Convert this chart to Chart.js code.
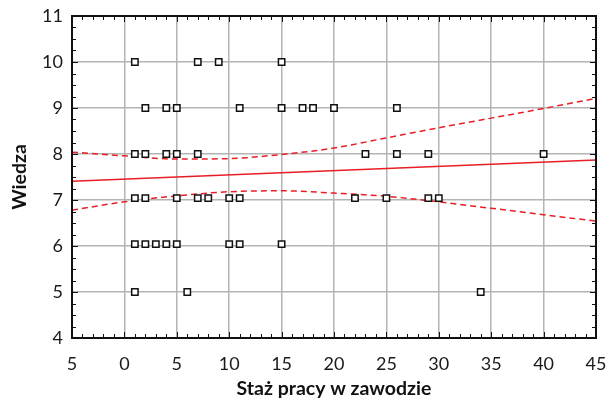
<!DOCTYPE html>
<html>
<head>
<meta charset="utf-8">
<script src="https://cdn.jsdelivr.net/npm/chart.js@4.4.0/dist/chart.umd.min.js"></script>
<style>
  body { margin: 0; background: #fff; }
  #wrap { width: 613px; height: 401px; }
</style>
</head>
<body>
<div id="wrap"><canvas id="chart" width="613" height="401"></canvas></div>
<script>
// staz pracy (lata) i wiedza (punkty)
const stazPracy = [1, 7, 9, 15,
  2, 4, 5, 11, 15, 17, 18, 20, 26,
  1, 2, 4, 5, 7, 23, 26, 29, 40,
  1, 2, 5, 7, 8, 10, 11, 22, 25, 29, 30,
  1, 2, 3, 4, 5, 10, 11, 15,
  1, 6, 34];
const wiedza = [10, 10, 10, 10,
  9, 9, 9, 9, 9, 9, 9, 9, 9,
  8, 8, 8, 8, 8, 8, 8, 8, 8,
  7.04, 7.04, 7.04, 7.04, 7.04, 7.04, 7.04, 7.04, 7.04, 7.04, 7.04,
  6.04, 6.04, 6.04, 6.04, 6.04, 6.04, 6.04, 6.04,
  5, 5, 5];

// linia regresji
const fitX = [-5, 45];
const fitY = [7.41, 7.87];

// przedzial ufnosci
const bandX = [-5, 0, 5, 10, 15, 20, 25, 30, 35, 40, 45];
const bandUpper = [8.04, 7.96, 7.89, 7.90, 7.99, 8.13, 8.35, 8.57, 8.78, 8.99, 9.21];
const bandLower = [6.78, 6.96, 7.09, 7.18, 7.20, 7.15, 7.08, 6.96, 6.82, 6.68, 6.54];

const xTicks = [-5, 0, 5, 10, 15, 20, 25, 30, 35, 40, 45];
const yTicks = [4, 5, 6, 7, 8, 9, 10, 11];

const RED = 'rgb(232, 30, 38)';
const FONT = 'Lato';

function pairs(xs, ys) {
    return xs.map((x, i) => ({ x: x, y: ys[i] }));
}

// ramka + male podzialki do srodka
const frameTicks = {
    id: 'frameTicks',
    afterDatasetsDraw(chart) {
        const ctx = chart.ctx;
        const a = chart.chartArea;
        const xs = chart.scales.x, ys = chart.scales.y;
        ctx.save();
        ctx.strokeStyle = '#111';
        ctx.lineWidth = 1;
        ctx.beginPath();
        for (let v = xs.min; v <= xs.max; v += 1) {
            const px = Math.round(xs.getPixelForValue(v)) + 0.5;
            const len = (v % 5 === 0) ? 6 : 4;
            ctx.moveTo(px, a.bottom); ctx.lineTo(px, a.bottom - len);
            ctx.moveTo(px, a.top); ctx.lineTo(px, a.top + len);
        }
        for (let v = ys.min; v <= ys.max + 0.001; v += 0.25) {
            const py = Math.round(ys.getPixelForValue(v)) + 0.5;
            const len = (Math.abs(v - Math.round(v)) < 0.01) ? 6 : 4;
            ctx.moveTo(a.left, py); ctx.lineTo(a.left + len, py);
            ctx.moveTo(a.right, py); ctx.lineTo(a.right - len, py);
        }
        ctx.stroke();
        ctx.lineWidth = 2;
        ctx.strokeStyle = '#111';
        ctx.strokeRect(a.left, a.top, a.right - a.left, a.bottom - a.top);
        ctx.restore();
    }
};

new Chart(document.getElementById('chart'), {
    type: 'scatter',
    data: {
        datasets: [
            {
                label: 'dane',
                data: pairs(stazPracy, wiedza),
                pointStyle: 'rect',
                pointRadius: 4.5,
                pointBorderWidth: 1.5,
                pointBorderColor: '#111',
                pointBackgroundColor: '#fff',
                order: 0
            },
            {
                label: 'regresja',
                data: pairs(fitX, fitY),
                showLine: true,
                borderColor: RED,
                borderWidth: 1.5,
                pointRadius: 0,
                order: 1
            },
            {
                label: 'gorna',
                data: pairs(bandX, bandUpper),
                showLine: true,
                borderColor: RED,
                borderWidth: 1.5,
                borderDash: [6, 4],
                cubicInterpolationMode: 'monotone',
                pointRadius: 0,
                order: 1
            },
            {
                label: 'dolna',
                data: pairs(bandX, bandLower),
                showLine: true,
                borderColor: RED,
                borderWidth: 1.5,
                borderDash: [6, 4],
                cubicInterpolationMode: 'monotone',
                pointRadius: 0,
                order: 1
            }
        ]
    },
    options: {
        responsive: false,
        animation: false,
        layout: { padding: { left: 0, top: 16, right: 17, bottom: 0 } },
        plugins: {
            legend: { display: false },
            tooltip: { enabled: false }
        },
        scales: {
            x: {
                type: 'linear',
                min: -5,
                max: 45,
                afterBuildTicks: (s) => { s.ticks = xTicks.map(v => ({ value: v })); },
                afterFit: (s) => { s.height = 63; s.paddingLeft = 0; s.paddingRight = 0; },
                grid: { color: '#b4b4b4', lineWidth: 1.5, drawTicks: false },
                border: { display: false },
                ticks: {
                    color: '#1a1a1a',
                    padding: 15,
                    font: { family: FONT, size: 18 },
                    callback: (v) => String(Math.abs(v))
                },
                title: {
                    display: true,
                    text: 'Staż pracy w zawodzie',
                    color: '#111',
                    padding: { top: 0, bottom: 1 },
                    font: { family: FONT, size: 19.5, weight: 'bold' }
                }
            },
            y: {
                type: 'linear',
                min: 4,
                max: 11,
                afterBuildTicks: (s) => { s.ticks = yTicks.map(v => ({ value: v })); },
                afterFit: (s) => { s.width = 72; s.paddingTop = 0; s.paddingBottom = 0; },
                grid: { color: '#b4b4b4', lineWidth: 1.5, drawTicks: false },
                border: { display: false },
                ticks: {
                    color: '#1a1a1a',
                    padding: 9,
                    font: { family: FONT, size: 18 }
                },
                title: {
                    display: true,
                    text: 'Wiedza',
                    color: '#111',
                    padding: { top: 8, bottom: 0 },
                    font: { family: FONT, size: 19.5, weight: 'bold' }
                }
            }
        }
    },
    plugins: [frameTicks]
});
</script>
</body>
</html>
